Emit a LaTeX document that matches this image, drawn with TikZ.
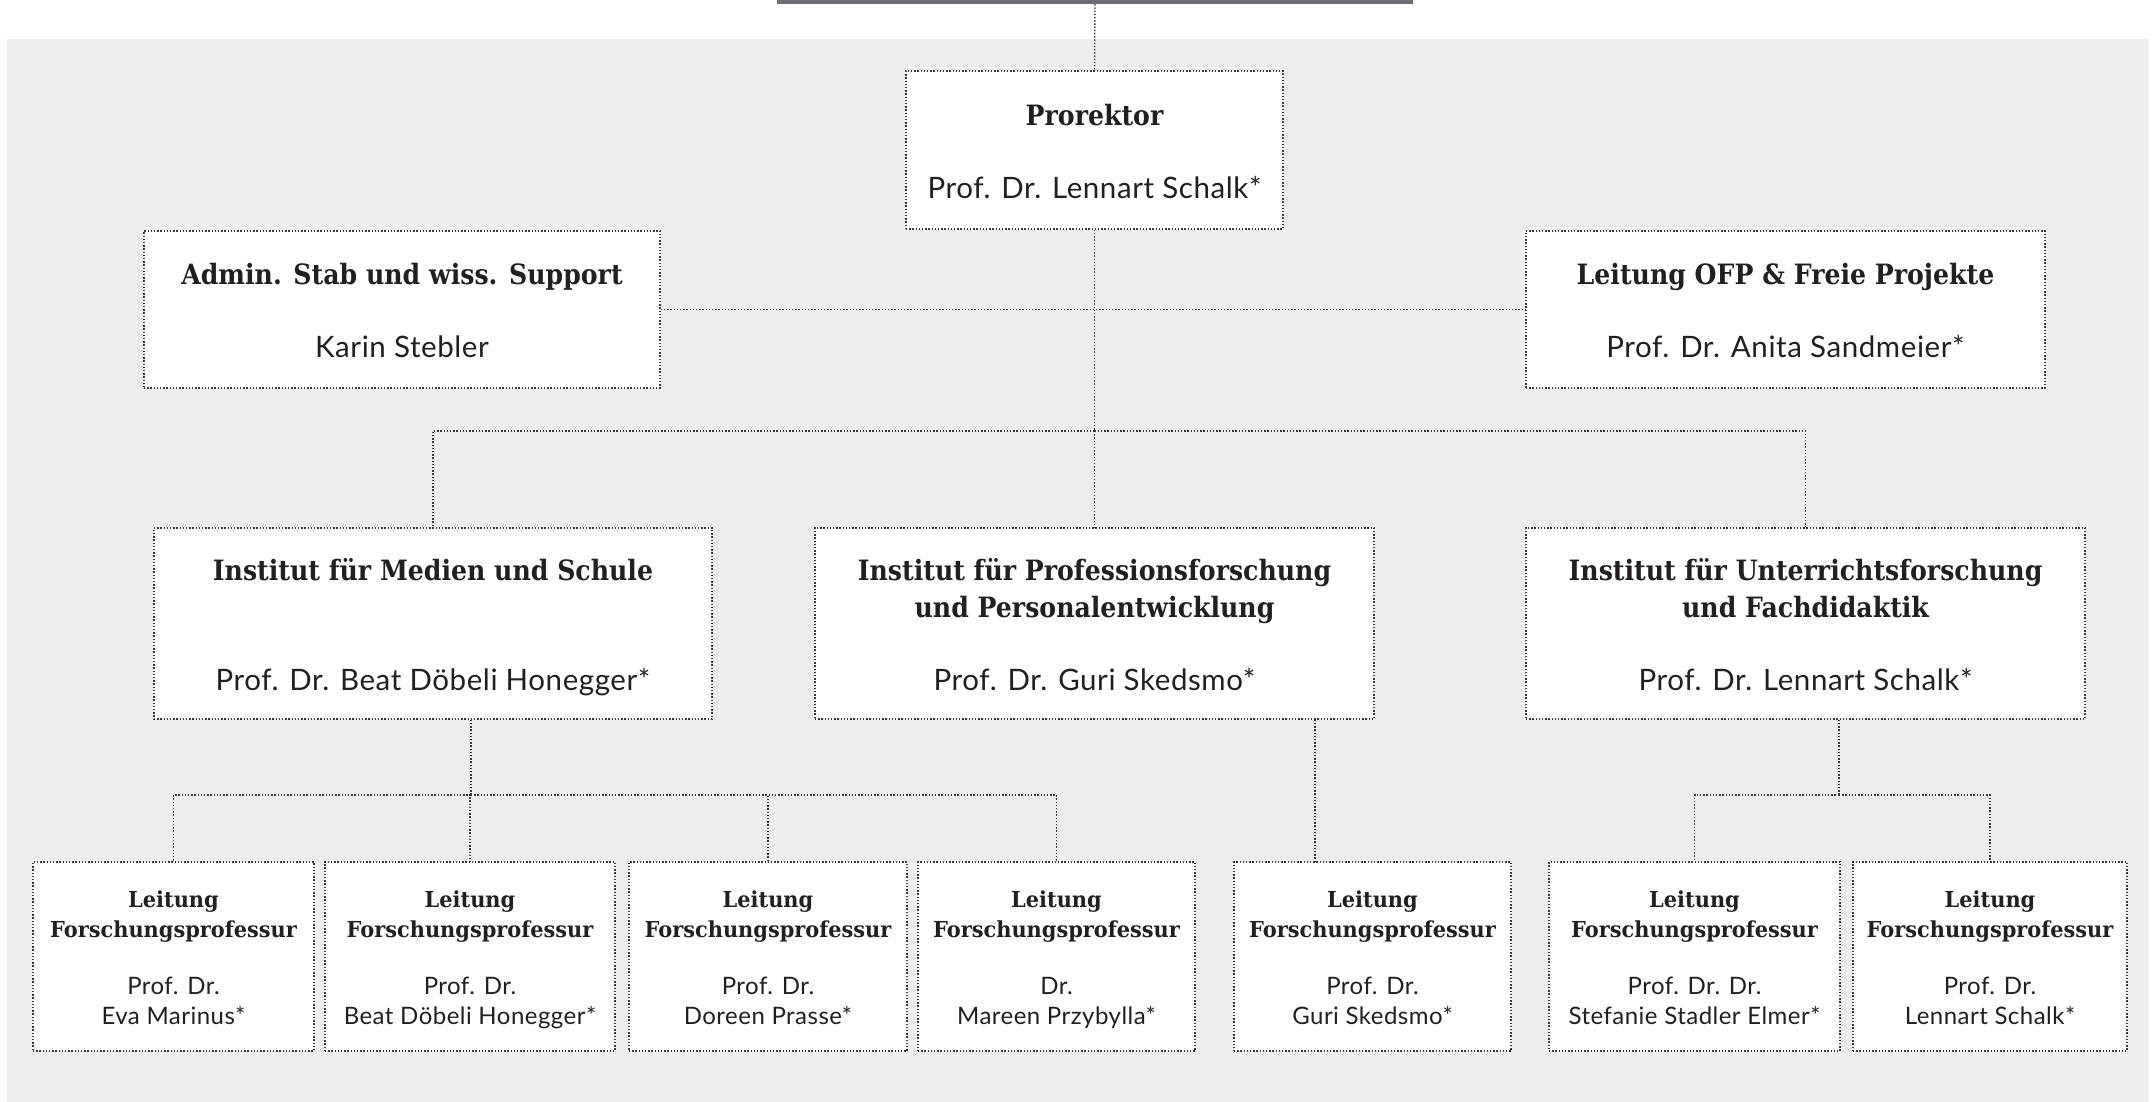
\documentclass[tikz,border=0pt]{standalone}
\usepackage{fontspec}
\setmainfont{Lato}
\newfontfamily\slabfont{DejaVu Serif}[FakeStretch=0.9]
\newfontfamily\slabsfont{DejaVu Serif}[FakeStretch=0.95]
\newfontfamily\namefont{Lato}[LetterSpace=2]
\definecolor{bgc}{HTML}{EDEDED}
\definecolor{barc}{HTML}{6D6E71}
\definecolor{lc}{HTML}{3A3A3A}
\definecolor{tc}{HTML}{231F20}
\newcommand\ttl{\slabfont\bfseries}
\newcommand\sttl{\slabsfont\bfseries}
\newcommand\tup{\rule{0pt}{29pt}}
\newcommand\stup{\rule{0pt}{24pt}}
\newcommand\nmf{\namefont\mdseries\fontsize{29.5}{37}\selectfont}
\newcommand\snm{\namefont\mdseries\fontsize{24}{30}\selectfont}
\tikzset{
  conn/.style={draw=lc, line width=1.4pt, dash pattern=on 1.4pt off 1.8pt},
  box/.style={conn, fill=white, inner sep=0pt, align=center, text=tc},
  big/.style={box, font=\fontsize{28}{37}\selectfont},
  small/.style={box, font=\fontsize{22}{30}\selectfont},
}
\begin{document}
\begin{tikzpicture}[x=1pt,y=-1pt]
\useasboundingbox (0,0) rectangle (2152,1102);
\fill[bgc] (7,39) rectangle (2149,1102);
\node[fill=barc, minimum width=636, minimum height=4, inner sep=0pt] (bar) at (1095,2) {};

% level 1
\node[big, minimum width=377, minimum height=158] (pro) at (1094.5,150)
  {\tup\ttl Prorektor\\[36pt]\nmf Prof. Dr. Lennart Schalk*\vphantom{y}};
\node[big, minimum width=516, minimum height=157] (adm) at (402,309.5)
  {\tup\ttl Admin. Stab und wiss. Support\\[36pt]\nmf Karin Stebler\vphantom{y}};
\node[big, minimum width=519, minimum height=157] (ofp) at (1785.5,309.5)
  {\tup\ttl Leitung OFP \& Freie Projekte\\[36pt]\nmf Prof. Dr. Anita Sandmeier*\vphantom{y}};

% institutes
\node[big, minimum width=558, minimum height=191] (med) at (433,623.5)
  {\tup\ttl Institut für Medien und Schule\\[73pt]\nmf Prof. Dr. Beat Döbeli Honegger*\vphantom{y}};
\node[big, minimum width=559, minimum height=191] (prf) at (1094.5,623.5)
  {\tup\ttl Institut für Professionsforschung\\\ttl und Personalentwicklung\\[36pt]\nmf Prof. Dr. Guri Skedsmo*\vphantom{y}};
\node[big, minimum width=559, minimum height=191] (unt) at (1805.5,623.5)
  {\tup\ttl Institut für Unterrichtsforschung\\\ttl und Fachdidaktik\\[36pt]\nmf Prof. Dr. Lennart Schalk*\vphantom{y}};

% research professorships
\node[small, minimum width=281, minimum height=189] (b1) at (173.5,956.5)
  {\stup\sttl Leitung\\\sttl Forschungsprofessur\\[27pt]\snm Prof. Dr.\\\snm Eva Marinus*\vphantom{y}};
\node[small, minimum width=290, minimum height=189] (b2) at (470,956.5)
  {\stup\sttl Leitung\\\sttl Forschungsprofessur\\[27pt]\snm Prof. Dr.\\\snm Beat Döbeli Honegger*\vphantom{y}};
\node[small, minimum width=278, minimum height=189] (b3) at (768,956.5)
  {\stup\sttl Leitung\\\sttl Forschungsprofessur\\[27pt]\snm Prof. Dr.\\\snm Doreen Prasse*\vphantom{y}};
\node[small, minimum width=277, minimum height=189] (b4) at (1056.5,956.5)
  {\stup\sttl Leitung\\\sttl Forschungsprofessur\\[27pt]\snm Dr.\\\snm Mareen Przybylla*\vphantom{y}};
\node[small, minimum width=277, minimum height=189] (b5) at (1372.5,956.5)
  {\stup\sttl Leitung\\\sttl Forschungsprofessur\\[27pt]\snm Prof. Dr.\\\snm Guri Skedsmo*\vphantom{y}};
\node[small, minimum width=291, minimum height=189] (b6) at (1694.5,956.5)
  {\stup\sttl Leitung\\\sttl Forschungsprofessur\\[27pt]\snm Prof. Dr. Dr.\\\snm Stefanie Stadler Elmer*\vphantom{y}};
\node[small, minimum width=274, minimum height=189] (b7) at (1990,956.5)
  {\stup\sttl Leitung\\\sttl Forschungsprofessur\\[27pt]\snm Prof. Dr.\\\snm Lennart Schalk*\vphantom{y}};

% connectors
\coordinate (hA) at (1094.5,431);
\coordinate (mA) at (471,795);
\coordinate (uA) at (1839,795);
\coordinate (pD) at (1315,862);

\draw[conn] (bar.south) -- (pro.north);
\draw[conn] (adm.east) -- (ofp.west);
\draw[conn] (pro.south) -- (hA);
\draw[conn] (hA) -| (med.north);
\draw[conn] (hA) -- (prf.north);
\draw[conn] (hA) -| (unt.north);

\draw[conn] (med.south -| mA) -- (mA);
\draw[conn] (mA) -| (b1.north);
\draw[conn] (mA) -| (b2.north);
\draw[conn] (mA) -| (b3.north);
\draw[conn] (mA) -| (b4.north);

\draw[conn] (prf.south -| pD) -- (b5.north -| pD);

\draw[conn] (unt.south -| uA) -- (uA);
\draw[conn] (uA) -| (b6.north);
\draw[conn] (uA) -| (b7.north);
\end{tikzpicture}
\end{document}
